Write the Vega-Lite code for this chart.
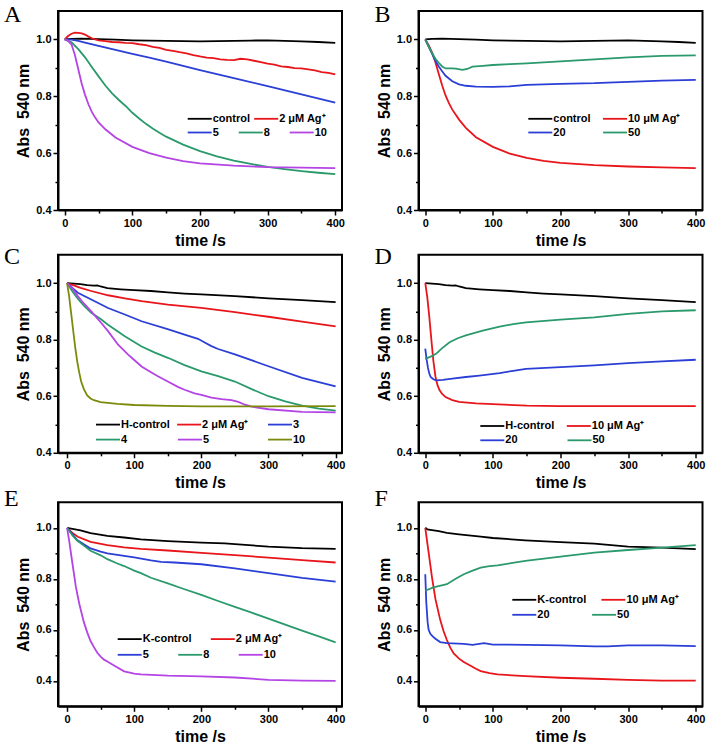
{
"$schema":"https://vega.github.io/schema/vega-lite/v6.json",
"background":"white",
"padding":{"left":3,"top":2,"right":0,"bottom":0},
"datasets":{
"A":[
{"s":"control","t":0,"v":1.0},{"s":"control","t":10,"v":1.002},{"s":"control","t":25,"v":1.003},{"s":"control","t":50,"v":1.001},{"s":"control","t":75,"v":0.999},{"s":"control","t":100,"v":0.997},{"s":"control","t":150,"v":0.995},{"s":"control","t":200,"v":0.993},{"s":"control","t":250,"v":0.995},{"s":"control","t":275,"v":0.996},{"s":"control","t":300,"v":0.997},{"s":"control","t":325,"v":0.995},{"s":"control","t":350,"v":0.993},{"s":"control","t":375,"v":0.991},{"s":"control","t":400,"v":0.988},
{"s":"2 μM Ag⁺","t":0,"v":1.0},{"s":"2 μM Ag⁺","t":5,"v":1.012},{"s":"2 μM Ag⁺","t":10,"v":1.02},{"s":"2 μM Ag⁺","t":15,"v":1.024},{"s":"2 μM Ag⁺","t":20,"v":1.023},{"s":"2 μM Ag⁺","t":25,"v":1.021},{"s":"2 μM Ag⁺","t":30,"v":1.017},{"s":"2 μM Ag⁺","t":35,"v":1.01},{"s":"2 μM Ag⁺","t":40,"v":1.004},{"s":"2 μM Ag⁺","t":45,"v":1.0},{"s":"2 μM Ag⁺","t":50,"v":0.997},{"s":"2 μM Ag⁺","t":60,"v":0.994},{"s":"2 μM Ag⁺","t":70,"v":0.991},{"s":"2 μM Ag⁺","t":80,"v":0.99},{"s":"2 μM Ag⁺","t":90,"v":0.988},{"s":"2 μM Ag⁺","t":100,"v":0.987},{"s":"2 μM Ag⁺","t":110,"v":0.983},{"s":"2 μM Ag⁺","t":120,"v":0.98},{"s":"2 μM Ag⁺","t":130,"v":0.974},{"s":"2 μM Ag⁺","t":140,"v":0.97},{"s":"2 μM Ag⁺","t":150,"v":0.963},{"s":"2 μM Ag⁺","t":160,"v":0.96},{"s":"2 μM Ag⁺","t":170,"v":0.955},{"s":"2 μM Ag⁺","t":180,"v":0.951},{"s":"2 μM Ag⁺","t":190,"v":0.945},{"s":"2 μM Ag⁺","t":200,"v":0.94},{"s":"2 μM Ag⁺","t":210,"v":0.936},{"s":"2 μM Ag⁺","t":220,"v":0.934},{"s":"2 μM Ag⁺","t":230,"v":0.93},{"s":"2 μM Ag⁺","t":240,"v":0.928},{"s":"2 μM Ag⁺","t":250,"v":0.927},{"s":"2 μM Ag⁺","t":260,"v":0.932},{"s":"2 μM Ag⁺","t":270,"v":0.93},{"s":"2 μM Ag⁺","t":280,"v":0.925},{"s":"2 μM Ag⁺","t":290,"v":0.92},{"s":"2 μM Ag⁺","t":300,"v":0.915},{"s":"2 μM Ag⁺","t":310,"v":0.911},{"s":"2 μM Ag⁺","t":320,"v":0.905},{"s":"2 μM Ag⁺","t":330,"v":0.903},{"s":"2 μM Ag⁺","t":340,"v":0.899},{"s":"2 μM Ag⁺","t":350,"v":0.898},{"s":"2 μM Ag⁺","t":360,"v":0.895},{"s":"2 μM Ag⁺","t":370,"v":0.891},{"s":"2 μM Ag⁺","t":380,"v":0.885},{"s":"2 μM Ag⁺","t":390,"v":0.882},{"s":"2 μM Ag⁺","t":400,"v":0.877},
{"s":"5","t":0,"v":1.0},{"s":"5","t":10,"v":0.999},{"s":"5","t":20,"v":0.995},{"s":"5","t":30,"v":0.989},{"s":"5","t":50,"v":0.977},{"s":"5","t":75,"v":0.963},{"s":"5","t":100,"v":0.949},{"s":"5","t":125,"v":0.936},{"s":"5","t":150,"v":0.922},{"s":"5","t":175,"v":0.907},{"s":"5","t":200,"v":0.892},{"s":"5","t":250,"v":0.864},{"s":"5","t":300,"v":0.836},{"s":"5","t":350,"v":0.807},{"s":"5","t":400,"v":0.778},
{"s":"8","t":0,"v":1.0},{"s":"8","t":10,"v":0.99},{"s":"8","t":20,"v":0.966},{"s":"8","t":30,"v":0.937},{"s":"8","t":40,"v":0.903},{"s":"8","t":50,"v":0.87},{"s":"8","t":60,"v":0.838},{"s":"8","t":70,"v":0.81},{"s":"8","t":80,"v":0.787},{"s":"8","t":90,"v":0.766},{"s":"8","t":100,"v":0.742},{"s":"8","t":110,"v":0.722},{"s":"8","t":120,"v":0.703},{"s":"8","t":130,"v":0.687},{"s":"8","t":140,"v":0.672},{"s":"8","t":150,"v":0.658},{"s":"8","t":175,"v":0.63},{"s":"8","t":200,"v":0.607},{"s":"8","t":225,"v":0.589},{"s":"8","t":250,"v":0.574},{"s":"8","t":275,"v":0.562},{"s":"8","t":300,"v":0.552},{"s":"8","t":325,"v":0.544},{"s":"8","t":350,"v":0.537},{"s":"8","t":375,"v":0.531},{"s":"8","t":400,"v":0.526},
{"s":"10","t":0,"v":1.0},{"s":"10","t":5,"v":0.995},{"s":"10","t":10,"v":0.982},{"s":"10","t":15,"v":0.945},{"s":"10","t":20,"v":0.895},{"s":"10","t":25,"v":0.845},{"s":"10","t":30,"v":0.805},{"s":"10","t":35,"v":0.772},{"s":"10","t":40,"v":0.745},{"s":"10","t":45,"v":0.725},{"s":"10","t":50,"v":0.708},{"s":"10","t":60,"v":0.684},{"s":"10","t":75,"v":0.655},{"s":"10","t":100,"v":0.622},{"s":"10","t":125,"v":0.6},{"s":"10","t":150,"v":0.584},{"s":"10","t":175,"v":0.572},{"s":"10","t":200,"v":0.564},{"s":"10","t":250,"v":0.556},{"s":"10","t":300,"v":0.551},{"s":"10","t":350,"v":0.549},{"s":"10","t":400,"v":0.547}
],
"B":[
{"s":"control","t":0,"v":1.0},{"s":"control","t":10,"v":1.002},{"s":"control","t":25,"v":1.003},{"s":"control","t":50,"v":1.001},{"s":"control","t":75,"v":0.999},{"s":"control","t":100,"v":0.997},{"s":"control","t":150,"v":0.995},{"s":"control","t":200,"v":0.993},{"s":"control","t":250,"v":0.995},{"s":"control","t":275,"v":0.996},{"s":"control","t":300,"v":0.997},{"s":"control","t":325,"v":0.995},{"s":"control","t":350,"v":0.993},{"s":"control","t":375,"v":0.991},{"s":"control","t":400,"v":0.988},
{"s":"10 μM Ag⁺","t":0,"v":1.0},{"s":"10 μM Ag⁺","t":5,"v":0.98},{"s":"10 μM Ag⁺","t":10,"v":0.955},{"s":"10 μM Ag⁺","t":15,"v":0.92},{"s":"10 μM Ag⁺","t":20,"v":0.878},{"s":"10 μM Ag⁺","t":25,"v":0.838},{"s":"10 μM Ag⁺","t":30,"v":0.803},{"s":"10 μM Ag⁺","t":35,"v":0.776},{"s":"10 μM Ag⁺","t":40,"v":0.753},{"s":"10 μM Ag⁺","t":50,"v":0.718},{"s":"10 μM Ag⁺","t":60,"v":0.689},{"s":"10 μM Ag⁺","t":75,"v":0.656},{"s":"10 μM Ag⁺","t":100,"v":0.622},{"s":"10 μM Ag⁺","t":125,"v":0.598},{"s":"10 μM Ag⁺","t":150,"v":0.583},{"s":"10 μM Ag⁺","t":175,"v":0.573},{"s":"10 μM Ag⁺","t":200,"v":0.566},{"s":"10 μM Ag⁺","t":250,"v":0.558},{"s":"10 μM Ag⁺","t":300,"v":0.553},{"s":"10 μM Ag⁺","t":350,"v":0.55},{"s":"10 μM Ag⁺","t":400,"v":0.547},
{"s":"20","t":0,"v":1.0},{"s":"20","t":5,"v":0.975},{"s":"20","t":10,"v":0.95},{"s":"20","t":15,"v":0.925},{"s":"20","t":20,"v":0.905},{"s":"20","t":25,"v":0.888},{"s":"20","t":30,"v":0.872},{"s":"20","t":40,"v":0.853},{"s":"20","t":50,"v":0.842},{"s":"20","t":60,"v":0.837},{"s":"20","t":75,"v":0.834},{"s":"20","t":100,"v":0.833},{"s":"20","t":125,"v":0.835},{"s":"20","t":150,"v":0.84},{"s":"20","t":200,"v":0.844},{"s":"20","t":250,"v":0.846},{"s":"20","t":300,"v":0.851},{"s":"20","t":350,"v":0.855},{"s":"20","t":400,"v":0.858},
{"s":"50","t":0,"v":1.0},{"s":"50","t":5,"v":0.975},{"s":"50","t":10,"v":0.952},{"s":"50","t":15,"v":0.932},{"s":"50","t":20,"v":0.918},{"s":"50","t":25,"v":0.905},{"s":"50","t":30,"v":0.898},{"s":"50","t":40,"v":0.898},{"s":"50","t":45,"v":0.897},{"s":"50","t":55,"v":0.893},{"s":"50","t":62,"v":0.896},{"s":"50","t":70,"v":0.904},{"s":"50","t":85,"v":0.907},{"s":"50","t":100,"v":0.91},{"s":"50","t":125,"v":0.913},{"s":"50","t":150,"v":0.916},{"s":"50","t":200,"v":0.923},{"s":"50","t":250,"v":0.93},{"s":"50","t":300,"v":0.937},{"s":"50","t":350,"v":0.942},{"s":"50","t":400,"v":0.944}
],
"C":[
{"s":"H-control","t":0,"v":1.0},{"s":"H-control","t":10,"v":0.998},{"s":"H-control","t":20,"v":0.996},{"s":"H-control","t":30,"v":0.993},{"s":"H-control","t":40,"v":0.991},{"s":"H-control","t":45,"v":0.992},{"s":"H-control","t":50,"v":0.988},{"s":"H-control","t":60,"v":0.982},{"s":"H-control","t":80,"v":0.978},{"s":"H-control","t":100,"v":0.975},{"s":"H-control","t":125,"v":0.972},{"s":"H-control","t":150,"v":0.967},{"s":"H-control","t":175,"v":0.963},{"s":"H-control","t":200,"v":0.96},{"s":"H-control","t":250,"v":0.954},{"s":"H-control","t":300,"v":0.946},{"s":"H-control","t":350,"v":0.94},{"s":"H-control","t":400,"v":0.933},
{"s":"2 μM Ag⁺","t":0,"v":1.0},{"s":"2 μM Ag⁺","t":10,"v":0.992},{"s":"2 μM Ag⁺","t":20,"v":0.983},{"s":"2 μM Ag⁺","t":36,"v":0.972},{"s":"2 μM Ag⁺","t":61,"v":0.957},{"s":"2 μM Ag⁺","t":86,"v":0.946},{"s":"2 μM Ag⁺","t":111,"v":0.936},{"s":"2 μM Ag⁺","t":150,"v":0.924},{"s":"2 μM Ag⁺","t":200,"v":0.912},{"s":"2 μM Ag⁺","t":250,"v":0.897},{"s":"2 μM Ag⁺","t":300,"v":0.881},{"s":"2 μM Ag⁺","t":350,"v":0.864},{"s":"2 μM Ag⁺","t":400,"v":0.847},
{"s":"3","t":0,"v":1.0},{"s":"3","t":5,"v":0.99},{"s":"3","t":10,"v":0.978},{"s":"3","t":16,"v":0.966},{"s":"3","t":36,"v":0.942},{"s":"3","t":61,"v":0.912},{"s":"3","t":86,"v":0.889},{"s":"3","t":111,"v":0.865},{"s":"3","t":151,"v":0.836},{"s":"3","t":175,"v":0.818},{"s":"3","t":195,"v":0.803},{"s":"3","t":205,"v":0.79},{"s":"3","t":215,"v":0.777},{"s":"3","t":225,"v":0.767},{"s":"3","t":250,"v":0.748},{"s":"3","t":300,"v":0.706},{"s":"3","t":350,"v":0.665},{"s":"3","t":400,"v":0.635},
{"s":"4","t":0,"v":1.0},{"s":"4","t":8,"v":0.97},{"s":"4","t":16,"v":0.945},{"s":"4","t":25,"v":0.92},{"s":"4","t":36,"v":0.895},{"s":"4","t":50,"v":0.873},{"s":"4","t":61,"v":0.853},{"s":"4","t":86,"v":0.812},{"s":"4","t":111,"v":0.776},{"s":"4","t":130,"v":0.755},{"s":"4","t":151,"v":0.735},{"s":"4","t":175,"v":0.71},{"s":"4","t":200,"v":0.688},{"s":"4","t":225,"v":0.671},{"s":"4","t":250,"v":0.652},{"s":"4","t":275,"v":0.625},{"s":"4","t":300,"v":0.6},{"s":"4","t":325,"v":0.582},{"s":"4","t":350,"v":0.567},{"s":"4","t":375,"v":0.556},{"s":"4","t":400,"v":0.549},
{"s":"5","t":0,"v":1.0},{"s":"5","t":8,"v":0.98},{"s":"5","t":16,"v":0.954},{"s":"5","t":25,"v":0.928},{"s":"5","t":36,"v":0.9},{"s":"5","t":45,"v":0.875},{"s":"5","t":51,"v":0.859},{"s":"5","t":61,"v":0.83},{"s":"5","t":76,"v":0.782},{"s":"5","t":91,"v":0.747},{"s":"5","t":100,"v":0.728},{"s":"5","t":111,"v":0.705},{"s":"5","t":125,"v":0.685},{"s":"5","t":136,"v":0.67},{"s":"5","t":150,"v":0.652},{"s":"5","t":165,"v":0.633},{"s":"5","t":175,"v":0.623},{"s":"5","t":190,"v":0.61},{"s":"5","t":200,"v":0.605},{"s":"5","t":215,"v":0.595},{"s":"5","t":230,"v":0.59},{"s":"5","t":245,"v":0.586},{"s":"5","t":255,"v":0.58},{"s":"5","t":265,"v":0.57},{"s":"5","t":275,"v":0.563},{"s":"5","t":300,"v":0.554},{"s":"5","t":350,"v":0.545},{"s":"5","t":400,"v":0.543},
{"s":"10","t":0,"v":1.0},{"s":"10","t":3,"v":0.955},{"s":"10","t":6,"v":0.895},{"s":"10","t":9,"v":0.835},{"s":"10","t":12,"v":0.775},{"s":"10","t":15,"v":0.725},{"s":"10","t":18,"v":0.685},{"s":"10","t":21,"v":0.652},{"s":"10","t":25,"v":0.625},{"s":"10","t":30,"v":0.603},{"s":"10","t":35,"v":0.592},{"s":"10","t":40,"v":0.586},{"s":"10","t":50,"v":0.579},{"s":"10","t":75,"v":0.573},{"s":"10","t":100,"v":0.569},{"s":"10","t":150,"v":0.566},{"s":"10","t":200,"v":0.564},{"s":"10","t":300,"v":0.564},{"s":"10","t":400,"v":0.565}
],
"D":[
{"s":"H-control","t":0,"v":1.0},{"s":"H-control","t":10,"v":0.998},{"s":"H-control","t":20,"v":0.996},{"s":"H-control","t":30,"v":0.993},{"s":"H-control","t":40,"v":0.991},{"s":"H-control","t":45,"v":0.992},{"s":"H-control","t":50,"v":0.988},{"s":"H-control","t":60,"v":0.982},{"s":"H-control","t":80,"v":0.978},{"s":"H-control","t":100,"v":0.975},{"s":"H-control","t":125,"v":0.972},{"s":"H-control","t":150,"v":0.967},{"s":"H-control","t":175,"v":0.963},{"s":"H-control","t":200,"v":0.96},{"s":"H-control","t":250,"v":0.954},{"s":"H-control","t":300,"v":0.946},{"s":"H-control","t":350,"v":0.94},{"s":"H-control","t":400,"v":0.933},
{"s":"10 μM Ag⁺","t":0,"v":1.0},{"s":"10 μM Ag⁺","t":3,"v":0.95},{"s":"10 μM Ag⁺","t":6,"v":0.88},{"s":"10 μM Ag⁺","t":9,"v":0.8},{"s":"10 μM Ag⁺","t":12,"v":0.725},{"s":"10 μM Ag⁺","t":15,"v":0.67},{"s":"10 μM Ag⁺","t":18,"v":0.64},{"s":"10 μM Ag⁺","t":21,"v":0.622},{"s":"10 μM Ag⁺","t":25,"v":0.608},{"s":"10 μM Ag⁺","t":30,"v":0.597},{"s":"10 μM Ag⁺","t":40,"v":0.586},{"s":"10 μM Ag⁺","t":50,"v":0.58},{"s":"10 μM Ag⁺","t":75,"v":0.575},{"s":"10 μM Ag⁺","t":100,"v":0.572},{"s":"10 μM Ag⁺","t":150,"v":0.567},{"s":"10 μM Ag⁺","t":200,"v":0.565},{"s":"10 μM Ag⁺","t":300,"v":0.565},{"s":"10 μM Ag⁺","t":400,"v":0.565},
{"s":"20","t":0,"v":0.768},{"s":"20","t":2,"v":0.73},{"s":"20","t":4,"v":0.7},{"s":"20","t":6,"v":0.68},{"s":"20","t":8,"v":0.668},{"s":"20","t":12,"v":0.66},{"s":"20","t":16,"v":0.656},{"s":"20","t":26,"v":0.658},{"s":"20","t":40,"v":0.662},{"s":"20","t":60,"v":0.668},{"s":"20","t":80,"v":0.673},{"s":"20","t":110,"v":0.682},{"s":"20","t":130,"v":0.69},{"s":"20","t":149,"v":0.697},{"s":"20","t":200,"v":0.703},{"s":"20","t":250,"v":0.709},{"s":"20","t":300,"v":0.717},{"s":"20","t":350,"v":0.723},{"s":"20","t":400,"v":0.729},
{"s":"50","t":0,"v":0.732},{"s":"50","t":8,"v":0.74},{"s":"50","t":16,"v":0.75},{"s":"50","t":25,"v":0.77},{"s":"50","t":36,"v":0.791},{"s":"50","t":48,"v":0.805},{"s":"50","t":60,"v":0.815},{"s":"50","t":85,"v":0.832},{"s":"50","t":110,"v":0.846},{"s":"50","t":130,"v":0.855},{"s":"50","t":149,"v":0.861},{"s":"50","t":200,"v":0.871},{"s":"50","t":250,"v":0.879},{"s":"50","t":300,"v":0.891},{"s":"50","t":350,"v":0.9},{"s":"50","t":400,"v":0.904}
],
"E":[
{"s":"K-control","t":0,"v":1.0},{"s":"K-control","t":10,"v":0.995},{"s":"K-control","t":20,"v":0.99},{"s":"K-control","t":35,"v":0.979},{"s":"K-control","t":60,"v":0.968},{"s":"K-control","t":85,"v":0.962},{"s":"K-control","t":110,"v":0.955},{"s":"K-control","t":150,"v":0.948},{"s":"K-control","t":200,"v":0.942},{"s":"K-control","t":235,"v":0.939},{"s":"K-control","t":250,"v":0.936},{"s":"K-control","t":300,"v":0.926},{"s":"K-control","t":350,"v":0.92},{"s":"K-control","t":400,"v":0.917},
{"s":"2 μM Ag⁺","t":0,"v":1.0},{"s":"2 μM Ag⁺","t":8,"v":0.98},{"s":"2 μM Ag⁺","t":16,"v":0.965},{"s":"2 μM Ag⁺","t":35,"v":0.945},{"s":"2 μM Ag⁺","t":60,"v":0.932},{"s":"2 μM Ag⁺","t":85,"v":0.923},{"s":"2 μM Ag⁺","t":110,"v":0.917},{"s":"2 μM Ag⁺","t":150,"v":0.911},{"s":"2 μM Ag⁺","t":200,"v":0.902},{"s":"2 μM Ag⁺","t":250,"v":0.893},{"s":"2 μM Ag⁺","t":300,"v":0.883},{"s":"2 μM Ag⁺","t":350,"v":0.873},{"s":"2 μM Ag⁺","t":400,"v":0.864},
{"s":"5","t":0,"v":1.0},{"s":"5","t":8,"v":0.975},{"s":"5","t":15,"v":0.952},{"s":"5","t":25,"v":0.935},{"s":"5","t":35,"v":0.919},{"s":"5","t":50,"v":0.907},{"s":"5","t":60,"v":0.9},{"s":"5","t":85,"v":0.89},{"s":"5","t":100,"v":0.884},{"s":"5","t":125,"v":0.872},{"s":"5","t":140,"v":0.866},{"s":"5","t":160,"v":0.864},{"s":"5","t":200,"v":0.857},{"s":"5","t":250,"v":0.841},{"s":"5","t":300,"v":0.822},{"s":"5","t":350,"v":0.804},{"s":"5","t":400,"v":0.789},
{"s":"8","t":0,"v":1.0},{"s":"8","t":8,"v":0.97},{"s":"8","t":15,"v":0.95},{"s":"8","t":25,"v":0.93},{"s":"8","t":35,"v":0.91},{"s":"8","t":50,"v":0.892},{"s":"8","t":60,"v":0.877},{"s":"8","t":75,"v":0.86},{"s":"8","t":85,"v":0.85},{"s":"8","t":100,"v":0.832},{"s":"8","t":110,"v":0.822},{"s":"8","t":125,"v":0.804},{"s":"8","t":150,"v":0.782},{"s":"8","t":175,"v":0.759},{"s":"8","t":200,"v":0.737},{"s":"8","t":225,"v":0.713},{"s":"8","t":250,"v":0.69},{"s":"8","t":275,"v":0.667},{"s":"8","t":300,"v":0.644},{"s":"8","t":325,"v":0.62},{"s":"8","t":350,"v":0.597},{"s":"8","t":375,"v":0.574},{"s":"8","t":400,"v":0.551},
{"s":"10","t":0,"v":1.0},{"s":"10","t":3,"v":0.952},{"s":"10","t":8,"v":0.86},{"s":"10","t":13,"v":0.77},{"s":"10","t":18,"v":0.704},{"s":"10","t":25,"v":0.63},{"s":"10","t":30,"v":0.59},{"s":"10","t":35,"v":0.556},{"s":"10","t":40,"v":0.532},{"s":"10","t":45,"v":0.51},{"s":"10","t":50,"v":0.495},{"s":"10","t":55,"v":0.483},{"s":"10","t":60,"v":0.476},{"s":"10","t":70,"v":0.46},{"s":"10","t":85,"v":0.437},{"s":"10","t":100,"v":0.428},{"s":"10","t":110,"v":0.425},{"s":"10","t":150,"v":0.42},{"s":"10","t":200,"v":0.417},{"s":"10","t":250,"v":0.413},{"s":"10","t":300,"v":0.404},{"s":"10","t":350,"v":0.401},{"s":"10","t":400,"v":0.4}
],
"F":[
{"s":"K-control","t":0,"v":1.0},{"s":"K-control","t":3,"v":0.994},{"s":"K-control","t":10,"v":0.991},{"s":"K-control","t":20,"v":0.987},{"s":"K-control","t":32,"v":0.98},{"s":"K-control","t":50,"v":0.974},{"s":"K-control","t":82,"v":0.965},{"s":"K-control","t":100,"v":0.96},{"s":"K-control","t":148,"v":0.951},{"s":"K-control","t":200,"v":0.944},{"s":"K-control","t":250,"v":0.938},{"s":"K-control","t":300,"v":0.926},{"s":"K-control","t":350,"v":0.922},{"s":"K-control","t":400,"v":0.916},
{"s":"10 μM Ag⁺","t":0,"v":1.0},{"s":"10 μM Ag⁺","t":5,"v":0.903},{"s":"10 μM Ag⁺","t":10,"v":0.805},{"s":"10 μM Ag⁺","t":15,"v":0.721},{"s":"10 μM Ag⁺","t":22,"v":0.64},{"s":"10 μM Ag⁺","t":27,"v":0.595},{"s":"10 μM Ag⁺","t":32,"v":0.56},{"s":"10 μM Ag⁺","t":37,"v":0.53},{"s":"10 μM Ag⁺","t":42,"v":0.507},{"s":"10 μM Ag⁺","t":50,"v":0.487},{"s":"10 μM Ag⁺","t":57,"v":0.474},{"s":"10 μM Ag⁺","t":65,"v":0.462},{"s":"10 μM Ag⁺","t":75,"v":0.447},{"s":"10 μM Ag⁺","t":82,"v":0.438},{"s":"10 μM Ag⁺","t":95,"v":0.43},{"s":"10 μM Ag⁺","t":107,"v":0.425},{"s":"10 μM Ag⁺","t":148,"v":0.418},{"s":"10 μM Ag⁺","t":200,"v":0.412},{"s":"10 μM Ag⁺","t":250,"v":0.408},{"s":"10 μM Ag⁺","t":300,"v":0.404},{"s":"10 μM Ag⁺","t":350,"v":0.401},{"s":"10 μM Ag⁺","t":400,"v":0.401},
{"s":"20","t":0,"v":0.818},{"s":"20","t":1.5,"v":0.708},{"s":"20","t":3.5,"v":0.63},{"s":"20","t":5,"v":0.6},{"s":"20","t":7.5,"v":0.584},{"s":"20","t":11,"v":0.574},{"s":"20","t":15,"v":0.565},{"s":"20","t":22,"v":0.552},{"s":"20","t":32,"v":0.548},{"s":"20","t":57,"v":0.545},{"s":"20","t":70,"v":0.541},{"s":"20","t":87,"v":0.548},{"s":"20","t":100,"v":0.542},{"s":"20","t":150,"v":0.541},{"s":"20","t":200,"v":0.539},{"s":"20","t":250,"v":0.535},{"s":"20","t":270,"v":0.535},{"s":"20","t":300,"v":0.539},{"s":"20","t":350,"v":0.539},{"s":"20","t":400,"v":0.536},
{"s":"50","t":0,"v":0.753},{"s":"50","t":12,"v":0.766},{"s":"50","t":32,"v":0.779},{"s":"50","t":45,"v":0.8},{"s":"50","t":57,"v":0.818},{"s":"50","t":70,"v":0.832},{"s":"50","t":82,"v":0.844},{"s":"50","t":95,"v":0.85},{"s":"50","t":107,"v":0.853},{"s":"50","t":148,"v":0.87},{"s":"50","t":200,"v":0.887},{"s":"50","t":250,"v":0.903},{"s":"50","t":300,"v":0.913},{"s":"50","t":350,"v":0.922},{"s":"50","t":400,"v":0.932}
]
},
"vconcat":[
{"vconcat":[
{"hconcat":[
{"data":{"name":"A"},"width":284,"height":199,"title":{"text":"A","orient":"none","align":"left","dx":-54,"dy":-8},
"encoding":{
"x":{"field":"t","type":"quantitative","scale":{"domain":[-10,410],"nice":false,"zero":false},"axis":{"values":[0,50,100,150,200,250,300,350,400],"labelExpr":"datum.value % 100 === 0 ? datum.label : ''","tickSize":{"condition":{"test":"datum.value % 100 !== 0","value":3},"value":5},"title":"time /s","labelOverlap":false,"labelFlush":false,"labelPadding":2,"titlePadding":4}},
"y":{"field":"v","type":"quantitative","scale":{"domain":[0.4,1.1],"nice":false,"zero":false},"axis":{"values":[0.4,0.5,0.6,0.7,0.8,0.9,1.0],"format":".1f","labelExpr":"round(datum.value*10) % 2 === 0 ? datum.label : ''","tickSize":{"condition":{"test":"round(datum.value*10) % 2 === 1","value":3},"value":5},"title":"Abs\u00a0 540 nm","labelOverlap":false,"labelFlush":false,"labelPadding":2,"titlePadding":4}}},
"layer":[
{"transform":[{"filter":{"field":"s","oneOf":["control","2 μM Ag⁺"]}}],"mark":{"type":"line"},"encoding":{"color":{"field":"s","type":"nominal","scale":{"domain":["control","2 μM Ag⁺"],"range":["#000000","#e8151b"]},"legend":{"title":null,"orient":"none","legendX":128.7,"legendY":94.8,"direction":"horizontal","columns":2,"columnPadding":-0.5}}}},
{"transform":[{"filter":{"field":"s","oneOf":["5","8","10"]}}],"mark":{"type":"line"},"encoding":{"color":{"field":"s","type":"nominal","scale":{"domain":["5","8","10"],"range":["#2b3fd6","#2a9a6c","#b444e4"]},"legend":{"title":null,"orient":"none","legendX":128.7,"legendY":108.5,"direction":"horizontal","columns":3,"columnPadding":15}}}}
],
"resolve":{"scale":{"color":"independent"}}},
{"data":{"name":"B"},"width":284,"height":199,"title":{"text":"B","orient":"none","align":"left","dx":-44,"dy":-8},
"encoding":{
"x":{"field":"t","type":"quantitative","scale":{"domain":[-10,410],"nice":false,"zero":false},"axis":{"values":[0,50,100,150,200,250,300,350,400],"labelExpr":"datum.value % 100 === 0 ? datum.label : ''","tickSize":{"condition":{"test":"datum.value % 100 !== 0","value":3},"value":5},"title":"time /s","labelOverlap":false,"labelFlush":false,"labelPadding":2,"titlePadding":4}},
"y":{"field":"v","type":"quantitative","scale":{"domain":[0.4,1.1],"nice":false,"zero":false},"axis":{"values":[0.4,0.5,0.6,0.7,0.8,0.9,1.0],"format":".1f","labelExpr":"round(datum.value*10) % 2 === 0 ? datum.label : ''","tickSize":{"condition":{"test":"round(datum.value*10) % 2 === 1","value":3},"value":5},"title":"Abs\u00a0 540 nm","labelOverlap":false,"labelFlush":false,"labelPadding":2,"titlePadding":4}}},
"layer":[
{"transform":[{"filter":{"field":"s","oneOf":["control","10 μM Ag⁺"]}}],"mark":{"type":"line"},"encoding":{"color":{"field":"s","type":"nominal","scale":{"domain":["control","10 μM Ag⁺"],"range":["#000000","#e8151b"]},"legend":{"title":null,"orient":"none","legendX":108.8,"legendY":94.8,"direction":"horizontal","columns":2,"columnPadding":7.7}}}},
{"transform":[{"filter":{"field":"s","oneOf":["20","50"]}}],"mark":{"type":"line"},"encoding":{"color":{"field":"s","type":"nominal","scale":{"domain":["20","50"],"range":["#2b3fd6","#2a9a6c"]},"legend":{"title":null,"orient":"none","legendX":108.8,"legendY":108.5,"direction":"horizontal","columns":2,"columnPadding":32.8}}}}
],
"resolve":{"scale":{"color":"independent"}}}
],"spacing":27.5,"resolve":{"scale":{"color":"independent"},"legend":{"color":"independent"}}},
{"hconcat":[
{"data":{"name":"C"},"width":284,"height":198,"title":{"text":"C","orient":"none","align":"left","dx":-54,"dy":-9.7},
"encoding":{
"x":{"field":"t","type":"quantitative","scale":{"domain":[-13.5,409.5],"nice":false,"zero":false},"axis":{"values":[0,50,100,150,200,250,300,350,400],"labelExpr":"datum.value % 100 === 0 ? datum.label : ''","tickSize":{"condition":{"test":"datum.value % 100 !== 0","value":3},"value":5},"title":"time /s","labelOverlap":false,"labelFlush":false,"labelPadding":2,"titlePadding":4}},
"y":{"field":"v","type":"quantitative","scale":{"domain":[0.4,1.1],"nice":false,"zero":false},"axis":{"values":[0.4,0.5,0.6,0.7,0.8,0.9,1.0],"format":".1f","labelExpr":"round(datum.value*10) % 2 === 0 ? datum.label : ''","tickSize":{"condition":{"test":"round(datum.value*10) % 2 === 1","value":3},"value":5},"title":"Abs\u00a0 540 nm","labelOverlap":false,"labelFlush":false,"labelPadding":2,"titlePadding":4}}},
"layer":[
{"transform":[{"filter":{"field":"s","oneOf":["H-control","2 μM Ag⁺"]}}],"mark":{"type":"line"},"encoding":{"color":{"field":"s","type":"nominal","scale":{"domain":["H-control","2 μM Ag⁺"],"range":["#000000","#e8151b"]},"legend":{"title":null,"orient":"none","legendX":37,"legendY":156.8,"direction":"horizontal","columns":2,"columnPadding":3.1}}}},
{"transform":[{"filter":{"field":"s","oneOf":["3"]}}],"mark":{"type":"line"},"encoding":{"color":{"field":"s","type":"nominal","scale":{"domain":["3"],"range":["#2b3fd6"]},"legend":{"title":null,"orient":"none","legendX":209,"legendY":156.8,"direction":"horizontal"}}}},
{"transform":[{"filter":{"field":"s","oneOf":["4","5"]}}],"mark":{"type":"line"},"encoding":{"color":{"field":"s","type":"nominal","scale":{"domain":["4","5"],"range":["#2a9a6c","#b444e4"]},"legend":{"title":null,"orient":"none","legendX":37,"legendY":171.8,"direction":"horizontal","columns":2,"columnPadding":45.9}}}},
{"transform":[{"filter":{"field":"s","oneOf":["10"]}}],"mark":{"type":"line"},"encoding":{"color":{"field":"s","type":"nominal","scale":{"domain":["10"],"range":["#7c8a0c"]},"legend":{"title":null,"orient":"none","legendX":209,"legendY":171.8,"direction":"horizontal"}}}}
],
"resolve":{"scale":{"color":"independent"}}},
{"data":{"name":"D"},"width":284,"height":198,"title":{"text":"D","orient":"none","align":"left","dx":-44,"dy":-9.7},
"encoding":{
"x":{"field":"t","type":"quantitative","scale":{"domain":[-10,410],"nice":false,"zero":false},"axis":{"values":[0,50,100,150,200,250,300,350,400],"labelExpr":"datum.value % 100 === 0 ? datum.label : ''","tickSize":{"condition":{"test":"datum.value % 100 !== 0","value":3},"value":5},"title":"time /s","labelOverlap":false,"labelFlush":false,"labelPadding":2,"titlePadding":4}},
"y":{"field":"v","type":"quantitative","scale":{"domain":[0.4,1.1],"nice":false,"zero":false},"axis":{"values":[0.4,0.5,0.6,0.7,0.8,0.9,1.0],"format":".1f","labelExpr":"round(datum.value*10) % 2 === 0 ? datum.label : ''","tickSize":{"condition":{"test":"round(datum.value*10) % 2 === 1","value":3},"value":5},"title":"Abs\u00a0 540 nm","labelOverlap":false,"labelFlush":false,"labelPadding":2,"titlePadding":4}}},
"layer":[
{"transform":[{"filter":{"field":"s","oneOf":["H-control","10 μM Ag⁺"]}}],"mark":{"type":"line"},"encoding":{"color":{"field":"s","type":"nominal","scale":{"domain":["H-control","10 μM Ag⁺"],"range":["#000000","#e8151b"]},"legend":{"title":null,"orient":"none","legendX":60.8,"legendY":158.2,"direction":"horizontal","columns":2,"columnPadding":8.5}}}},
{"transform":[{"filter":{"field":"s","oneOf":["20","50"]}}],"mark":{"type":"line"},"encoding":{"color":{"field":"s","type":"nominal","scale":{"domain":["20","50"],"range":["#2b3fd6","#2a9a6c"]},"legend":{"title":null,"orient":"none","legendX":60.8,"legendY":172.5,"direction":"horizontal","columns":2,"columnPadding":45.2}}}}
],
"resolve":{"scale":{"color":"independent"}}}
],"spacing":27.5,"resolve":{"scale":{"color":"independent"},"legend":{"color":"independent"}}}
],"spacing":-5.2,"resolve":{"scale":{"color":"independent"},"legend":{"color":"independent"}}},
{"hconcat":[
{"data":{"name":"E"},"width":284,"height":204,"title":{"text":"E","orient":"none","align":"left","dx":-54,"dy":-15.2},
"encoding":{
"x":{"field":"t","type":"quantitative","scale":{"domain":[-13.5,409.5],"nice":false,"zero":false},"axis":{"values":[0,50,100,150,200,250,300,350,400],"labelExpr":"datum.value % 100 === 0 ? datum.label : ''","tickSize":{"condition":{"test":"datum.value % 100 !== 0","value":3},"value":5},"title":"time /s","labelOverlap":false,"labelFlush":false,"labelPadding":2,"titlePadding":4}},
"y":{"field":"v","type":"quantitative","scale":{"domain":[0.3,1.1],"nice":false,"zero":false},"axis":{"values":[0.4,0.5,0.6,0.7,0.8,0.9,1.0],"format":".1f","labelExpr":"round(datum.value*10) % 2 === 0 ? datum.label : ''","tickSize":{"condition":{"test":"round(datum.value*10) % 2 === 1","value":3},"value":5},"title":"Abs\u00a0 540 nm","labelOverlap":false,"labelFlush":false,"labelPadding":2,"titlePadding":4}}},
"layer":[
{"transform":[{"filter":{"field":"s","oneOf":["K-control","2 μM Ag⁺"]}}],"mark":{"type":"line"},"encoding":{"color":{"field":"s","type":"nominal","scale":{"domain":["K-control","2 μM Ag⁺"],"range":["#000000","#e8151b"]},"legend":{"title":null,"orient":"none","legendX":58.7,"legendY":123.8,"direction":"horizontal","columns":2,"columnPadding":15.1}}}},
{"transform":[{"filter":{"field":"s","oneOf":["5","8","10"]}}],"mark":{"type":"line"},"encoding":{"color":{"field":"s","type":"nominal","scale":{"domain":["5","8","10"],"range":["#2b3fd6","#2a9a6c","#b444e4"]},"legend":{"title":null,"orient":"none","legendX":58.7,"legendY":139.5,"direction":"horizontal","columns":3,"columnPadding":24.5}}}}
],
"resolve":{"scale":{"color":"independent"}}},
{"data":{"name":"F"},"width":284,"height":204,"title":{"text":"F","orient":"none","align":"left","dx":-44,"dy":-15.2},
"encoding":{
"x":{"field":"t","type":"quantitative","scale":{"domain":[-10,410],"nice":false,"zero":false},"axis":{"values":[0,50,100,150,200,250,300,350,400],"labelExpr":"datum.value % 100 === 0 ? datum.label : ''","tickSize":{"condition":{"test":"datum.value % 100 !== 0","value":3},"value":5},"title":"time /s","labelOverlap":false,"labelFlush":false,"labelPadding":2,"titlePadding":4}},
"y":{"field":"v","type":"quantitative","scale":{"domain":[0.3,1.1],"nice":false,"zero":false},"axis":{"values":[0.4,0.5,0.6,0.7,0.8,0.9,1.0],"format":".1f","labelExpr":"round(datum.value*10) % 2 === 0 ? datum.label : ''","tickSize":{"condition":{"test":"round(datum.value*10) % 2 === 1","value":3},"value":5},"title":"Abs\u00a0 540 nm","labelOverlap":false,"labelFlush":false,"labelPadding":2,"titlePadding":4}}},
"layer":[
{"transform":[{"filter":{"field":"s","oneOf":["K-control","10 μM Ag⁺"]}}],"mark":{"type":"line"},"encoding":{"color":{"field":"s","type":"nominal","scale":{"domain":["K-control","10 μM Ag⁺"],"range":["#000000","#e8151b"]},"legend":{"title":null,"orient":"none","legendX":92.8,"legendY":84.5,"direction":"horizontal","columns":2,"columnPadding":11.1}}}},
{"transform":[{"filter":{"field":"s","oneOf":["20","50"]}}],"mark":{"type":"line"},"encoding":{"color":{"field":"s","type":"nominal","scale":{"domain":["20","50"],"range":["#2b3fd6","#2a9a6c"]},"legend":{"title":null,"orient":"none","legendX":92.8,"legendY":99.5,"direction":"horizontal","columns":2,"columnPadding":37.8}}}}
],
"resolve":{"scale":{"color":"independent"}}}
],"spacing":27.5,"resolve":{"scale":{"color":"independent"},"legend":{"color":"independent"}}}
],
"spacing":-6.7,
"resolve":{"scale":{"color":"independent"},"legend":{"color":"independent"}},
"config":{
"view":{"stroke":"#000000","strokeWidth":2},
"axis":{"domainColor":"#000000","domainWidth":2,"tickColor":"#000000","tickWidth":1.5,"labelFont":"Liberation Sans","labelFontWeight":"bold","labelFontSize":11,"labelColor":"#000000","titleFont":"Liberation Sans","titleFontWeight":"bold","titleFontSize":16,"titleColor":"#000000","grid":false},
"legend":{"symbolType":"stroke","symbolSize":576,"symbolStrokeWidth":2,"labelFont":"Liberation Sans","labelFontWeight":"bold","labelFontSize":11,"labelColor":"#000000","labelOffset":0,"padding":0,"rowPadding":3,"gridAlign":"each"},
"title":{"font":"Liberation Serif","fontSize":24,"fontWeight":"normal","color":"#000000","anchor":"start","frame":"group","offset":0,"baseline":"alphabetic"},
"line":{"strokeWidth":1.8}
}
}
